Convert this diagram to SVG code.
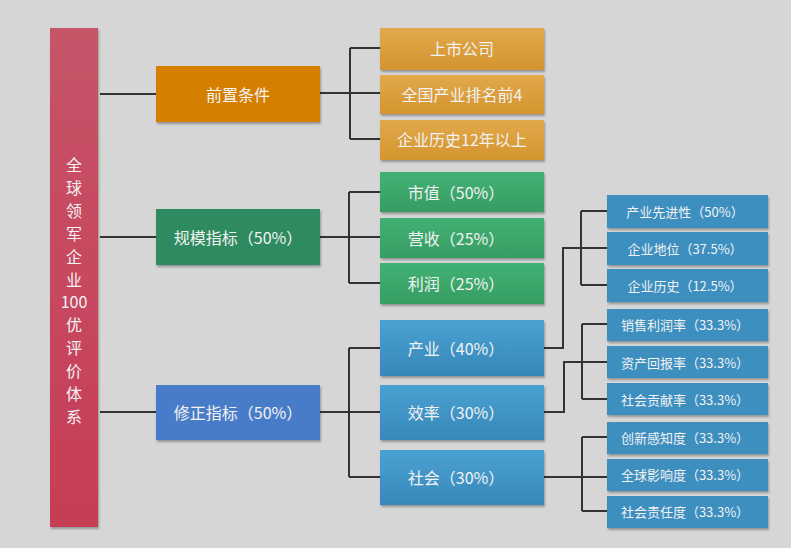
<svg xmlns="http://www.w3.org/2000/svg" width="791" height="548" viewBox="0 0 791 548">
<defs>
<linearGradient id="gO" x1="0" y1="0" x2="0" y2="1"><stop offset="0" stop-color="#E2A84A"/><stop offset="1" stop-color="#D3952F"/></linearGradient>
<linearGradient id="gG" x1="0" y1="0" x2="0" y2="1"><stop offset="0" stop-color="#42B174"/><stop offset="1" stop-color="#369D63"/></linearGradient>
<linearGradient id="gB" x1="0" y1="0" x2="0" y2="1"><stop offset="0" stop-color="#4AA2D2"/><stop offset="1" stop-color="#3887BA"/></linearGradient>
<linearGradient id="gR" x1="0" y1="0" x2="0" y2="1"><stop offset="0" stop-color="#C65468"/><stop offset="1" stop-color="#C63D56"/></linearGradient>
<filter id="sh" x="-10%" y="-10%" width="120%" height="130%"><feDropShadow dx="1" dy="2" stdDeviation="1" flood-color="#000" flood-opacity="0.3"/></filter>
</defs>
<style>
text{font-family:"Noto Sans CJK SC","Liberation Sans",sans-serif;fill:#F2F2F2;text-anchor:middle;dominant-baseline:central}
.l1{font-size:16px}.l3{font-size:13px}
rect{filter:url(#sh)}
.c{fill:none;stroke:#333;stroke-width:2}
</style>
<rect width="791" height="548" fill="#D6D6D6" style="filter:none"/>
<g id="connectors" class="c">
<path d="M100 94H156M100 237H156M100 412H156"/>
<path d="M320 93H380M350 48V139M350 48H380M350 139H380"/>
<path d="M320 237H380M349 192V283M349 192H380M349 283H380"/>
<path d="M320 412H380M349 348V477M349 348H380M349 477H380"/>
<path d="M544 348H563V248H607M581 211V285M581 211H607M581 285H607"/>
<path d="M544 412H564V362H607M582 324V399M582 324H607M582 399H607"/>
<path d="M544 477H607M582 437V511M582 437H607M582 511H607"/>
</g>
<g id="root"><rect x="50" y="28" width="48" height="499" fill="url(#gR)"/>
<text class="l1" x="74"><tspan x="74" y="164">全</tspan><tspan x="74" y="187">球</tspan><tspan x="74" y="210">领</tspan><tspan x="74" y="233">军</tspan><tspan x="74" y="256">企</tspan><tspan x="74" y="279">业</tspan><tspan x="74" y="301">100</tspan><tspan x="74" y="324">优</tspan><tspan x="74" y="347">评</tspan><tspan x="74" y="370">价</tspan><tspan x="74" y="393">体</tspan><tspan x="74" y="416">系</tspan></text></g>
<g id="n1"><rect x="156" y="66" width="164" height="56" fill="#D57F06"/><text class="l1" x="238" y="94">前置条件</text></g>
<g id="n2"><rect x="156" y="209" width="164" height="56" fill="#2E8A5F"/><text class="l1" x="238" y="237">规模指标（50%）</text></g>
<g id="n3"><rect x="156" y="385" width="164" height="55" fill="#4A7CC8"/><text class="l1" x="238" y="412">修正指标（50%）</text></g>
<g id="o1"><rect x="380" y="28" width="164" height="42" fill="url(#gO)"/><text class="l1" x="462" y="48">上市公司</text></g>
<g id="o2"><rect x="380" y="75" width="164" height="39" fill="url(#gO)"/><text class="l1" x="462" y="94">全国产业排名前4</text></g>
<g id="o3"><rect x="380" y="120" width="164" height="40" fill="url(#gO)"/><text class="l1" x="462" y="139">企业历史12年以上</text></g>
<g id="g1"><rect x="380" y="172" width="164" height="40" fill="url(#gG)"/><text class="l1" x="456" y="192">市值（50%）</text></g>
<g id="g2"><rect x="380" y="218" width="164" height="40" fill="url(#gG)"/><text class="l1" x="456" y="238">营收（25%）</text></g>
<g id="g3"><rect x="380" y="263" width="164" height="41" fill="url(#gG)"/><text class="l1" x="456" y="283">利润（25%）</text></g>
<g id="b1"><rect x="380" y="320" width="164" height="56" fill="url(#gB)"/><text class="l1" x="456" y="348">产业（40%）</text></g>
<g id="b2"><rect x="380" y="385" width="164" height="55" fill="url(#gB)"/><text class="l1" x="456" y="412">效率（30%）</text></g>
<g id="b3"><rect x="380" y="450" width="164" height="55" fill="url(#gB)"/><text class="l1" x="456" y="477">社会（30%）</text></g>
<g id="s1"><rect x="607" y="195" width="161" height="33" fill="#3E8FC0"/><text class="l3" x="685" y="211">产业先进性（50%）</text></g>
<g id="s2"><rect x="607" y="232" width="161" height="33" fill="#3E8FC0"/><text class="l3" x="685" y="248">企业地位（37.5%）</text></g>
<g id="s3"><rect x="607" y="269" width="161" height="33" fill="#3E8FC0"/><text class="l3" x="685" y="285">企业历史（12.5%）</text></g>
<g id="s4"><rect x="607" y="309" width="161" height="32" fill="#3E8FC0"/><text class="l3" x="685" y="324">销售利润率（33.3%）</text></g>
<g id="s5"><rect x="607" y="346" width="161" height="32" fill="#3E8FC0"/><text class="l3" x="685" y="362">资产回报率（33.3%）</text></g>
<g id="s6"><rect x="607" y="383" width="161" height="32" fill="#3E8FC0"/><text class="l3" x="685" y="399">社会贡献率（33.3%）</text></g>
<g id="s7"><rect x="607" y="422" width="161" height="32" fill="#3E8FC0"/><text class="l3" x="685" y="437">创新感知度（33.3%）</text></g>
<g id="s8"><rect x="607" y="459" width="161" height="32" fill="#3E8FC0"/><text class="l3" x="685" y="474">全球影响度（33.3%）</text></g>
<g id="s9"><rect x="607" y="496" width="161" height="32" fill="#3E8FC0"/><text class="l3" x="685" y="511">社会责任度（33.3%）</text></g>
</svg>
